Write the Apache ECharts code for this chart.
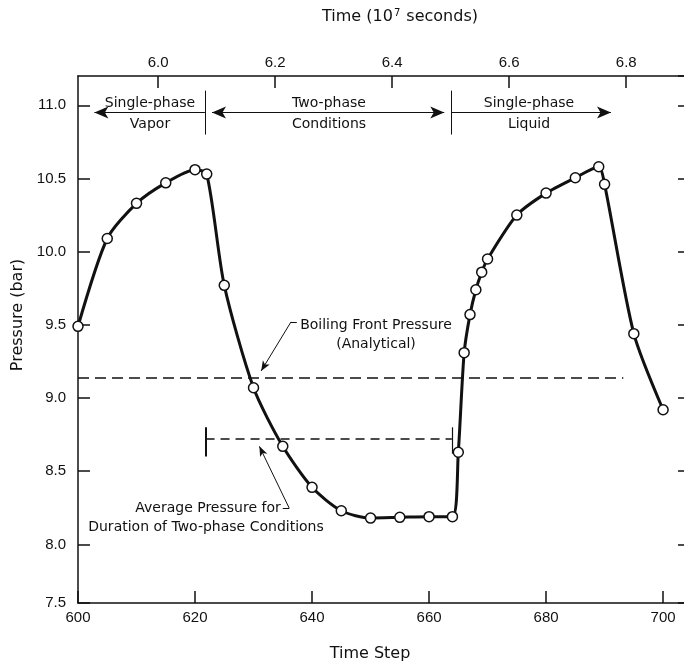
<!DOCTYPE html>
<html><head><meta charset="utf-8">
<script src="https://cdn.jsdelivr.net/npm/echarts@6/dist/echarts.min.js"></script>
<style>html,body{margin:0;padding:0;background:#fff}#c{width:684px;height:663px}</style>
</head><body><div id="c"></div>
<script>
// ---- data ----
const timeSteps = [600, 605, 610, 615, 620, 622, 625, 630, 635, 640, 645, 650, 655, 660, 664,
                   665, 666, 667, 668, 669, 670, 675, 680, 685, 689, 690, 695, 700];
const pressures = [9.49, 10.09, 10.33, 10.47, 10.56, 10.53, 9.77, 9.07, 8.67, 8.39, 8.23, 8.18, 8.185, 8.19, 8.19,
                   8.63, 9.31, 9.57, 9.74, 9.86, 9.95, 10.25, 10.40, 10.505, 10.58, 10.46, 9.44, 8.92];
const boilingFrontPressure = 9.14;      // analytical, bar
const boilingFrontEndStep = 693.2;
const averagePressure = 8.72;           // average over two-phase period, bar
const twoPhaseStartStep = 621.7;
const twoPhaseEndStep = 663.8;
const phaseLabels = [['Single-phase', 'Vapor'], ['Two-phase', 'Conditions'], ['Single-phase', 'Liquid']];
const yBottomLabel = '7.5';
// time (10^7 s) corresponding to a time step (6.0 at step 613.7, 0.2 per 20 steps)
const timeAtStep = s => 6.0 + (s - 613.7) / 100;

const ink = '#111';
const stepMin = 600, stepMax = 704.6;
const pMin = 7.6, pMax = 11.2;
const tickFont = "'Liberation Sans', Arial, Helvetica, sans-serif";
const noteFont = "'DejaVu Sans', sans-serif";

function seg(a, b, style, symA, symB) {
  const s0 = { coord: a, symbol: symA ? 'arrow' : 'none', lineStyle: style };
  const s1 = { coord: b, symbol: symB ? 'arrow' : 'none', lineStyle: style };
  if (symA) s0.symbolSize = symA;
  if (symB) s1.symbolSize = symB;
  return [s0, s1];
}
const thin = { color: ink, width: 1, type: 'solid' };
const bigArrow = [9, 14];
const smallArrow = [6, 10];
const bracketY = 10.95;

const markData = [
  seg([stepMin, boilingFrontPressure], [boilingFrontEndStep, boilingFrontPressure], { color: ink, width: 1.5, type: [11, 6] }),
  seg([twoPhaseStartStep + 0.1, averagePressure], [twoPhaseEndStep + 0.1, averagePressure], { color: ink, width: 1.5, type: [9, 6] }),
  seg([twoPhaseStartStep + 0.1, 8.60], [twoPhaseStartStep + 0.1, 8.80], { color: ink, width: 2, type: 'solid' }),
  seg([twoPhaseEndStep + 0.1, 8.62], [twoPhaseEndStep + 0.1, 8.80], { color: ink, width: 1.2, type: 'solid' }),
  seg([twoPhaseStartStep, 10.80], [twoPhaseStartStep, 11.10], thin),
  seg([twoPhaseEndStep, 10.80], [twoPhaseEndStep, 11.10], thin),
  seg([twoPhaseStartStep, bracketY], [602.8, bracketY], thin, null, bigArrow),
  seg([twoPhaseStartStep + 1.2, bracketY], [twoPhaseEndStep - 1.2, bracketY], thin, bigArrow, bigArrow),
  seg([twoPhaseEndStep, bracketY], [691.1, bracketY], thin, null, bigArrow),
  // leader: Boiling Front Pressure
  seg([637.4, 9.52], [636.4, 9.52], thin),
  seg([636.4, 9.52], [631.3, 9.185], thin, null, smallArrow),
  // leader: Average Pressure
  seg([635.0, 8.248], [636.1, 8.248], thin),
  seg([636.1, 8.248], [631.0, 8.67], thin, null, smallArrow)
];

function txt(t, x, y, size) {
  return { type: 'text', x: x, y: y, z: 50, silent: true,
    style: { text: t, font: (size || 14) + 'px ' + noteFont, fill: ink, align: 'center', verticalAlign: 'middle' } };
}
const phaseX = [150, 329, 529];
const graphics = [];
phaseLabels.forEach((p, i) => { graphics.push(txt(p[0], phaseX[i], 103)); graphics.push(txt(p[1], phaseX[i], 124)); });
graphics.push(txt('Boiling Front Pressure', 376, 325));
graphics.push(txt('(Analytical)', 376, 344));
graphics.push(txt('Average Pressure for', 208, 508));
graphics.push(txt('Duration of Two-phase Conditions', 206, 527));

const axisLine = { show: true, lineStyle: { color: ink, width: 1.5 } };
const axisTick = { show: true, inside: true, length: 12, lineStyle: { color: ink, width: 1.5 } };
const labelStyle = { color: ink, fontSize: 15, fontFamily: tickFont };

const chart = echarts.init(document.getElementById('c'), null, { renderer: 'canvas' });
chart.setOption({
  animation: false,
  backgroundColor: '#fff',
  grid: { left: 78, right: -6, top: 76, bottom: 60, containLabel: false, outerBoundsMode: 'none' },
  xAxis: [
    { type: 'value', position: 'bottom', min: stepMin, max: stepMax, interval: 20,
      axisLine: axisLine, axisTick: axisTick, splitLine: { show: false },
      axisLabel: Object.assign({ margin: 7, showMaxLabel: false }, labelStyle),
      name: 'Time Step', nameLocation: 'middle', nameGap: 43,
      nameTextStyle: { color: ink, fontSize: 16, fontFamily: noteFont, padding: [0, 28, 0, 0] } },
    { type: 'value', position: 'top', min: timeAtStep(stepMin), max: timeAtStep(stepMax), splitNumber: 5,
      axisLine: axisLine, axisTick: axisTick, splitLine: { show: false },
      axisLabel: Object.assign({ margin: 6, showMinLabel: false, showMaxLabel: false,
        formatter: v => v.toFixed(1) }, labelStyle),
      name: 'Time (10{sup|7} seconds)', nameLocation: 'middle', nameGap: 50,
      nameTextStyle: { color: ink, fontSize: 16, fontFamily: noteFont, padding: [0, 0, 0, 32],
        rich: { sup: { fontSize: 10, fontFamily: noteFont, color: ink, verticalAlign: 'top', padding: [0, 1, 8, 1] } } } }
  ],
  yAxis: [
    { type: 'value', position: 'left', min: pMin, max: pMax, splitNumber: 7,
      axisLine: axisLine, axisTick: axisTick, splitLine: { show: false },
      axisLabel: Object.assign({ margin: 12, showMinLabel: true, showMaxLabel: false,
        formatter: v => (Math.abs(v - pMin) < 1e-6 ? yBottomLabel : v.toFixed(1)) }, labelStyle),
      name: 'Pressure (bar)', nameLocation: 'middle', nameGap: 51, nameRotate: 90,
      nameTextStyle: { color: ink, fontSize: 16, fontFamily: noteFont, padding: [0, 0, 0, 49] } },
    { type: 'value', position: 'right', min: pMin, max: pMax, splitNumber: 7,
      axisLine: axisLine, axisTick: axisTick, splitLine: { show: false }, axisLabel: { show: false } }
  ],
  graphic: graphics,
  series: [
    { type: 'line', data: [], xAxisIndex: 0, yAxisIndex: 0, z: 1, silent: true,
      markLine: { silent: true, symbol: 'none', animation: false, label: { show: false },
        emphasis: { disabled: true }, data: markData } },
    { type: 'line', xAxisIndex: 0, yAxisIndex: 0, z: 5, clip: false,
      data: timeSteps.map((s, i) => [s, pressures[i]]),
      smooth: 0.25,
      lineStyle: { color: ink, width: 3 },
      symbol: 'circle', symbolSize: 10, showAllSymbol: true,
      itemStyle: { color: '#fff', borderColor: ink, borderWidth: 1.5 } }
  ]
});
</script>
</body></html>
